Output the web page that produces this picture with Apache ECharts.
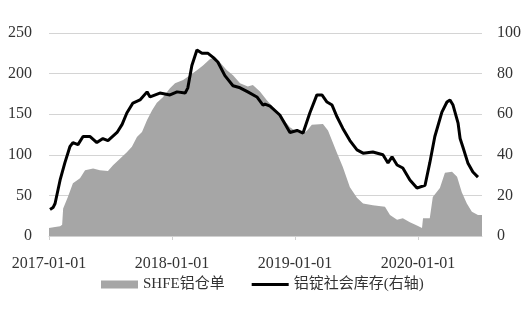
<!DOCTYPE html>
<html><head><meta charset="utf-8">
<script src="https://cdn.jsdelivr.net/npm/echarts@6/dist/echarts.min.js"></script>
<style>html,body{margin:0;padding:0;background:#fff}#c{width:527px;height:311px}</style>
</head><body><div id="c"></div>
<script>
const yearLabels = ['2017-01-01','2018-01-01','2019-01-01','2020-01-01'];
const shfeDates = ['2017-01-01','2017-01-19','2017-02-03','2017-02-09','2017-02-12','2017-02-26','2017-03-13','2017-04-03','2017-04-18','2017-05-12','2017-06-01','2017-06-25','2017-07-10','2017-07-25','2017-08-20','2017-09-04','2017-09-19','2017-10-04','2017-10-19','2017-11-03','2017-11-17','2017-12-05','2017-12-26','2018-01-10','2018-02-03','2018-02-17','2018-03-16','2018-04-03','2018-04-24','2018-05-09','2018-05-23','2018-06-13','2018-07-01','2018-07-22','2018-08-14','2018-08-29','2018-09-19','2018-10-10','2018-10-19','2018-11-17','2018-12-17','2019-01-07','2019-01-25','2019-02-06','2019-02-20','2019-03-25','2019-04-09','2019-05-06','2019-05-23','2019-06-13','2019-07-04','2019-07-22','2019-08-20','2019-09-25','2019-10-10','2019-10-31','2019-11-17','2019-12-08','2019-12-29','2020-01-13','2020-01-16','2020-02-05','2020-02-14','2020-03-06','2020-03-21','2020-04-11','2020-04-26','2020-05-10','2020-05-25','2020-06-09','2020-06-27','2020-07-09'];
const shfeValues = [10,11,12,14,34,48,65,71,81,83,81,80,87,93,103,110,122,128,143,155,164,171,182,188,192,196,204,210,218,220,214,204,198,188,184,186,178,167,163,149,134,128,126,130,137,138,130,102,85,60,47,40,38,36,26,20,22,17,13,10,22,22,48,59,78,79,73,54,40,30,26,26];
const stockDates = ['2017-01-04','2017-01-13','2017-01-19','2017-02-03','2017-02-17','2017-03-04','2017-03-13','2017-03-28','2017-04-12','2017-05-03','2017-05-23','2017-06-10','2017-06-25','2017-07-22','2017-08-06','2017-08-20','2017-09-07','2017-09-28','2017-10-19','2017-10-28','2017-11-26','2017-12-26','2018-01-16','2018-02-09','2018-02-17','2018-03-01','2018-03-16','2018-03-31','2018-04-18','2018-05-03','2018-05-17','2018-06-07','2018-07-01','2018-07-22','2018-08-14','2018-09-10','2018-09-28','2018-10-04','2018-10-19','2018-11-17','2018-12-17','2019-01-07','2019-01-25','2019-02-14','2019-03-07','2019-03-22','2019-04-06','2019-04-21','2019-05-06','2019-05-23','2019-06-13','2019-07-04','2019-07-22','2019-08-20','2019-09-19','2019-10-04','2019-10-16','2019-10-31','2019-11-17','2019-12-08','2019-12-29','2020-01-22','2020-02-05','2020-02-20','2020-03-12','2020-03-27','2020-04-05','2020-04-14','2020-04-29','2020-05-05','2020-05-13','2020-05-28','2020-06-12','2020-06-27'];
const stockValues = [13,14,16,27.6,36,44,46,45,49,49,46,48,47,51,55,60.6,65.5,67,71,68.5,70.4,69.5,71,70.4,73,84,91.6,90,90,88,85.7,79,74,73,71,68.5,64.5,65,64,59.6,51,52,50.7,60.6,69.5,69.5,66,64.5,58.6,53,47,42.4,40.8,41.4,40,36,39,35,33.5,27.6,23.6,25,36,49,61,66,67,64.5,55.6,48,44,36,31.5,29];
const endDate = '2020-07-09';

const base = Date.parse('2017-01-01');
const dayOf = d => Math.round((Date.parse(d) - base) / 86400000);
const serif = "'Liberation Serif','Noto Sans CJK SC',serif";
const chart = echarts.init(document.getElementById('c'));
chart.setOption({
  animation: false,
  grid: {left: 49, right: 45, top: 33, bottom: 75},
  legend: {
    bottom: 14, left: 96, itemGap: 27, itemWidth: 37, itemHeight: 8,
    textStyle: {fontFamily: serif, fontSize: 15, color: '#333'},
    data: [{name: 'SHFE铝仓单', icon: 'rect'}, {name: '铝锭社会库存(右轴)', icon: 'path://M0 0H37V3H0Z'}]
  },
  xAxis: {
    type: 'value', min: 0, max: dayOf(endDate),
    axisLine: {lineStyle: {color: '#d0d0d0', width: 1}},
    axisTick: {show: true, length: 4, customValues: yearLabels.map(dayOf), lineStyle: {color: '#d0d0d0'}},
    axisLabel: {customValues: yearLabels.map(dayOf), margin: 20, fontFamily: serif, fontSize: 16, color: '#333',
      formatter: v => yearLabels[Math.round(v / 365)] || ''},
    splitLine: {show: false}
  },
  yAxis: [
    {type: 'value', min: 0, max: 250, interval: 50,
     axisLine: {show: false}, axisTick: {show: false},
     axisLabel: {margin: 17, fontFamily: serif, fontSize: 16, color: '#333'},
     splitLine: {lineStyle: {color: '#d4d4d4', width: 1}}},
    {type: 'value', min: 0, max: 100, interval: 20,
     axisLine: {show: false}, axisTick: {show: false},
     axisLabel: {margin: 15, fontFamily: serif, fontSize: 16, color: '#333'},
     splitLine: {show: false}}
  ],
  series: [
    {name: 'SHFE铝仓单', type: 'line', yAxisIndex: 0, symbol: 'none',
     itemStyle: {color: '#a6a6a6'}, lineStyle: {width: 0, color: '#a6a6a6'},
     areaStyle: {color: '#a6a6a6', opacity: 1},
     data: shfeDates.map((d, i) => [dayOf(d), shfeValues[i]])},
    {name: '铝锭社会库存(右轴)', type: 'line', yAxisIndex: 1, symbol: 'none',
     itemStyle: {color: '#000'}, lineStyle: {width: 3, color: '#000'},
     data: stockDates.map((d, i) => [dayOf(d), stockValues[i]])}
  ]
});
</script></body></html>
